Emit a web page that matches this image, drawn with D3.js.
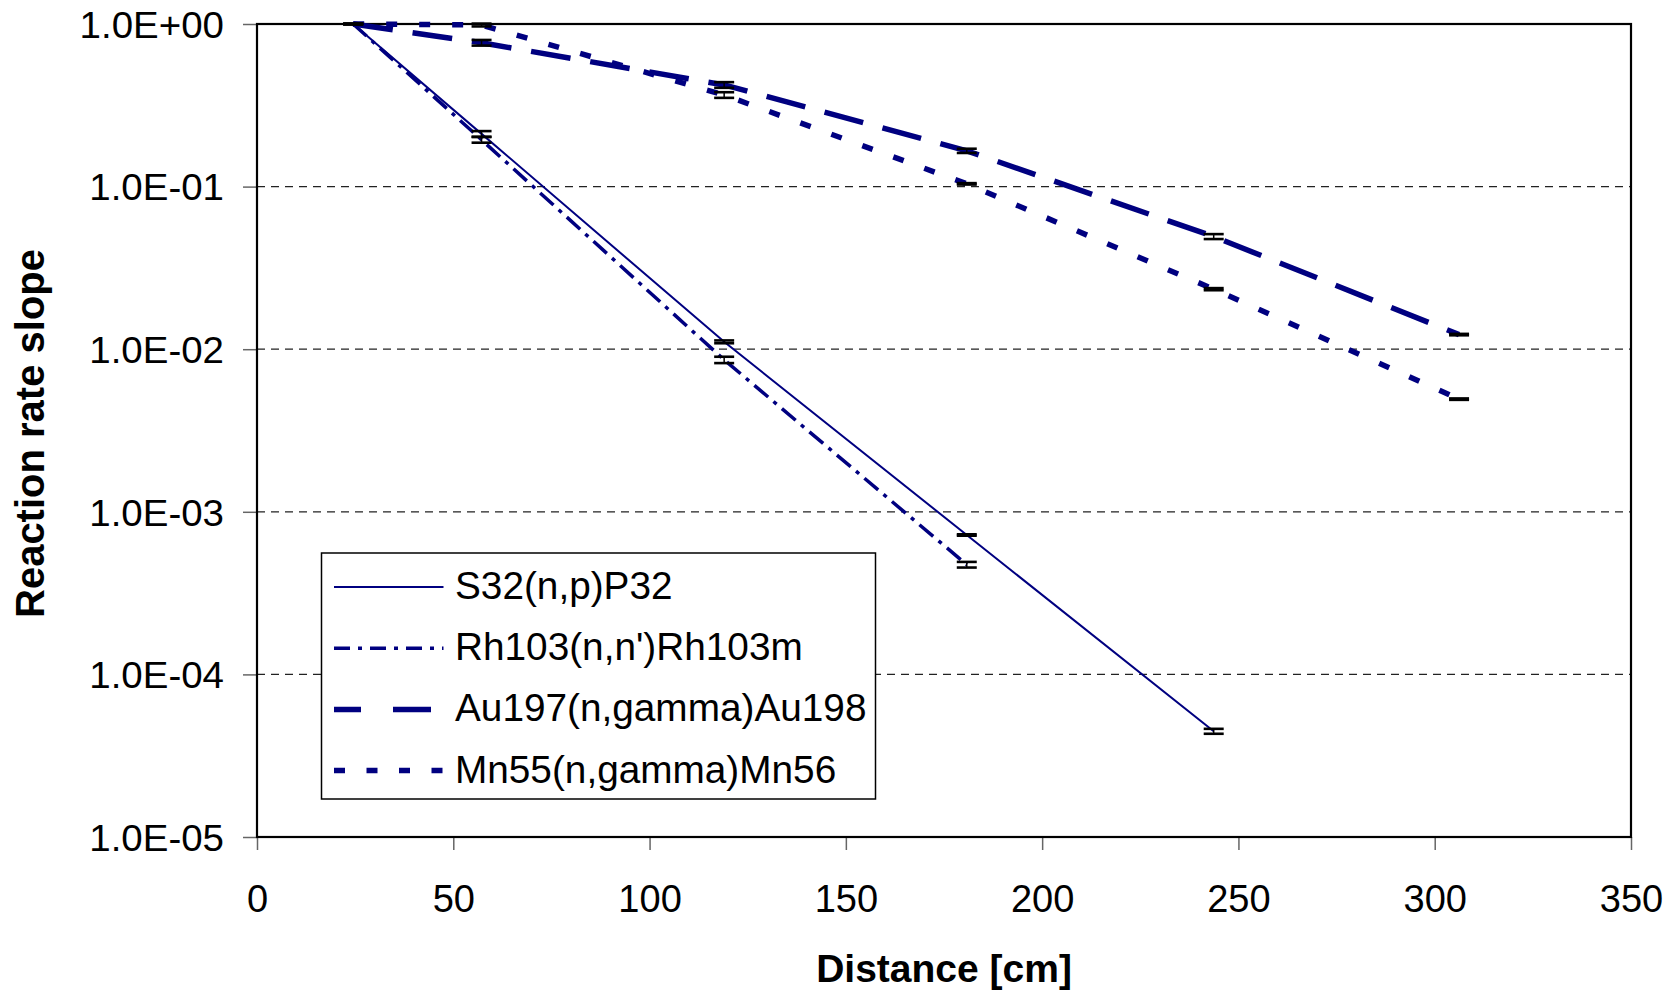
<!DOCTYPE html>
<html>
<head>
<meta charset="utf-8">
<script src="https://cdn.jsdelivr.net/npm/d3@7"></script>
<style>
  body { margin: 0; background: #fff; }
  svg text { font-family: "Liberation Sans", Arial, sans-serif; fill: #000; }
</style>
</head>
<body>
<div id="chart"></div>
<script>
// values
var distance = [24.5, 57.2, 119, 180.8, 243.7, 306.2];
var s32 = [1, 0.211, 0.0111, 7.2e-4, 4.47e-5];
var rh103 = [1, 0.194, 0.0086, 4.73e-4];
var au197 = [1, 0.767, 0.422, 0.166, 0.0493, 0.0123];
var mn55 = [1, 0.986, 0.366, 0.104, 0.0234, 0.00493];
// relative error bars
var s32Err = [0, 0.04, 0.02, 0.01, 0.035];
var rh103Err = [0, 0.04, 0.045, 0.04];
var au197Err = [0, 0.04, 0.04, 0.03, 0.035, 0.01];
var mn55Err = [0, 0.02, 0.04, 0.01, 0.015, 0.01];

var seriesNames = ["S32(n,p)P32", "Rh103(n,n')Rh103m", "Au197(n,gamma)Au198", "Mn55(n,gamma)Mn56"];
var xTicks = [0, 50, 100, 150, 200, 250, 300, 350];
var yTicks = [1, 1e-1, 1e-2, 1e-3, 1e-4, 1e-5];
var yTickLabels = ["1.0E+00", "1.0E-01", "1.0E-02", "1.0E-03", "1.0E-04", "1.0E-05"];

var width = 1675, height = 991,
    plotLeft = 257, plotRight = 1631, plotTop = 24, plotBottom = 837,
    navy = "#000080";

var series = [
    {name: seriesNames[0], values: s32, err: s32Err, width: 2, dash: null, legendDash: null},
    {name: seriesNames[1], values: rh103, err: rh103Err, width: 3.5, dash: "18,7,4,7", legendDash: "16,8,4,8"},
    {name: seriesNames[2], values: au197, err: au197Err, width: 5.5, dash: "40,20", legendDash: "27,32,38,100"},
    {name: seriesNames[3], values: mn55, err: mn55Err, width: 5.5, dash: "11,22", legendDash: "11,21.5"}
];

var svg = d3.select("#chart")
    .append("svg")
    .attr("width", width)
    .attr("height", height);

var x = d3.scaleLinear().domain([0, 350]).range([plotLeft, plotRight]),
    y = d3.scaleLog().domain([1e-5, 1]).range([plotBottom, plotTop]);

// grid lines
svg.selectAll("line.grid")
    .data(yTicks.slice(1, 5))
    .enter()
    .append("line")
    .classed("grid", true)
    .attr("x1", plotLeft).attr("x2", plotRight)
    .attr("y1", function (d) { return y(d); })
    .attr("y2", function (d) { return y(d); })
    .style("stroke", "#222")
    .style("stroke-width", 1.3)
    .style("stroke-dasharray", "8,6");

// y axis
var yAxis = d3.axisLeft(y)
    .tickValues(yTicks)
    .tickSize(14)
    .tickPadding(18)
    .tickFormat(function (d, i) { return yTickLabels[i]; });

var gy = svg.append("g").attr("transform", "translate(" + plotLeft + ",0)").call(yAxis);
gy.select(".domain").remove();
gy.selectAll(".tick line").style("stroke", "#666").style("stroke-width", 1.5);
gy.selectAll(".tick text")
    .style("font-size", "37px")
    .attr("dy", "0.36em")
    .attr("transform", "scale(1.04,1)")
    .attr("x", -33 / 1.04);

// x axis
var xAxis = d3.axisBottom(x)
    .tickValues(xTicks)
    .tickSize(13)
    .tickPadding(0);

var gx = svg.append("g").attr("transform", "translate(0," + plotBottom + ")").call(xAxis);
gx.select(".domain").remove();
gx.selectAll(".tick line").style("stroke", "#666").style("stroke-width", 1.5);
gx.selectAll(".tick text")
    .style("font-size", "38px")
    .attr("dy", null)
    .attr("y", 75);

// frame
svg.append("rect")
    .attr("x", plotLeft).attr("y", plotTop)
    .attr("width", plotRight - plotLeft).attr("height", plotBottom - plotTop)
    .style("fill", "none")
    .style("stroke", "#000")
    .style("stroke-width", 2.2);

// series lines
var line = d3.line()
    .x(function (d) { return x(d[0]); })
    .y(function (d) { return y(d[1]); });

series.forEach(function (s) {
    var pts = s.values.map(function (v, i) { return [distance[i], v]; });
    svg.append("path")
        .datum(pts)
        .attr("d", line)
        .style("fill", "none")
        .style("stroke", navy)
        .style("stroke-width", s.width)
        .style("stroke-dasharray", s.dash);
});

// error bars
series.forEach(function (s) {
    var g = svg.append("g");
    var bars = g.selectAll("g")
        .data(s.values.map(function (v, i) { return {x: distance[i], v: v, e: s.err[i]}; }))
        .enter()
        .append("g");
    bars.append("line")
        .attr("x1", function (d) { return x(d.x); })
        .attr("x2", function (d) { return x(d.x); })
        .attr("y1", function (d) { return y(d.v * (1 + d.e)); })
        .attr("y2", function (d) { return y(d.v * (1 - d.e)); })
        .style("stroke", "#000").style("stroke-width", 1.5);
    [1, -1].forEach(function (sign) {
        bars.append("line")
            .attr("x1", function (d) { return x(d.x) - 10; })
            .attr("x2", function (d) { return x(d.x) + 10; })
            .attr("y1", function (d) { return y(d.v * (1 + sign * d.e)); })
            .attr("y2", function (d) { return y(d.v * (1 + sign * d.e)); })
            .style("stroke", "#000").style("stroke-width", 2.6);
    });
});

// legend
var legend = svg.append("g");
legend.append("rect")
    .attr("x", 321.5).attr("y", 553)
    .attr("width", 554).attr("height", 246)
    .style("fill", "#fff")
    .style("stroke", "#000")
    .style("stroke-width", 1.5);

var rows = legend.selectAll("g.row")
    .data(series)
    .enter()
    .append("g")
    .attr("transform", function (d, i) { return "translate(0," + (599 + i * 61.2) + ")"; });

rows.append("line")
    .attr("x1", 334).attr("x2", 443.5)
    .attr("y1", -12).attr("y2", -12)
    .style("stroke", navy)
    .style("stroke-width", function (d) { return d.width; })
    .style("stroke-dasharray", function (d) { return d.legendDash; });

rows.append("text")
    .attr("x", 455 / 1.02)
    .attr("y", 0)
    .attr("transform", "scale(1.02,1)")
    .style("font-size", "38px")
    .text(function (d) { return d.name; });

// axis titles
svg.append("text")
    .attr("x", (plotLeft + plotRight) / 2)
    .attr("y", 982)
    .attr("text-anchor", "middle")
    .style("font-size", "39px")
    .style("font-weight", "bold")
    .text("Distance [cm]");

svg.append("text")
    .attr("transform", "translate(44," + ((plotTop + plotBottom) / 2 + 3) + ") rotate(-90)")
    .attr("text-anchor", "middle")
    .style("font-size", "40px")
    .style("font-weight", "bold")
    .text("Reaction rate slope");
</script>
</body>
</html>
